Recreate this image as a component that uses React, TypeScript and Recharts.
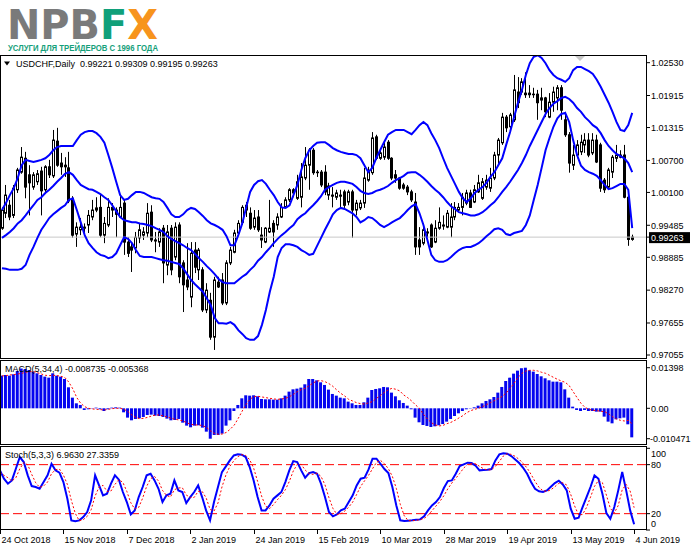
import React from 'react';
import { ComposedChart, Bar, Line, XAxis, YAxis, ReferenceLine } from 'recharts';

const FONT = "'Liberation Sans', Arial, sans-serif";
const W = 691;
const H = 549;

const symbolName = 'USDCHF,Daily';

const opens = [
  0.9943,0.9971,0.9986,0.9967,1.0015,1.0048,1.0074,1.0043,1.0020,1.0030,
  1.0050,1.0015,1.0058,1.0041,1.0106,1.0065,1.0061,1.0056,0.9998,0.9932,
  0.9940,0.9943,0.9949,0.9964,0.9977,0.9982,0.9930,0.9949,0.9982,0.9977,
  0.9964,0.9990,0.9917,0.9908,0.9906,0.9925,0.9930,0.9934,0.9973,0.9919,
  0.9917,0.9943,0.9874,0.9943,0.9889,0.9949,0.9878,0.9846,0.9814,0.9902,
  0.9865,0.9865,0.9790,0.9808,0.9739,0.9842,0.9846,0.9803,0.9878,0.9898,
  0.9934,0.9954,0.9977,0.9971,0.9945,0.9964,0.9930,0.9917,0.9936,0.9952,
  0.9949,0.9964,0.9982,0.9996,1.0015,0.9999,1.0001,1.0037,1.0061,1.0089,
  1.0048,1.0048,1.0048,1.0005,1.0005,1.0001,1.0005,1.0011,0.9992,1.0011,
  0.9977,0.9981,0.9990,1.0033,1.0047,1.0114,1.0074,1.0076,1.0104,1.0074,
  1.0043,1.0037,1.0024,1.0020,1.0011,0.9992,0.9921,0.9915,0.9936,0.9949,
  0.9917,0.9943,0.9947,0.9945,0.9945,0.9964,0.9977,0.9982,0.9990,1.0009,
  0.9992,1.0011,0.9999,1.0020,1.0018,1.0037,1.0080,1.0103,1.0151,1.0133,
  1.0146,1.0198,1.0198,1.0196,1.0196,1.0194,1.0194,1.0187,1.0187,1.0151,
  1.0179,1.0187,1.0206,1.0146,1.0118,1.0061,1.0080,1.0086,1.0099,1.0108,
  1.0084,1.0108,1.0099,1.0033,1.0020,1.0048,1.0074,1.0080,1.0080,1.0001,
  0.99221,
];

const highs = [
  0.9982,1.0024,0.9996,1.0024,1.0056,1.0095,1.0086,1.0061,1.0048,1.0052,
  1.0058,1.0061,1.0071,1.0127,1.0131,1.0084,1.0076,1.0086,1.0003,0.9954,
  0.9962,0.9952,0.9977,0.9996,1.0001,1.0005,0.9964,0.9999,0.9990,0.9982,
  1.0005,0.9996,0.9926,0.9917,0.9936,0.9952,0.9945,0.9990,0.9986,0.9936,
  0.9943,0.9949,0.9949,0.9949,0.9954,0.9954,0.9883,0.9915,0.9917,0.9917,
  0.9906,0.9870,0.9840,0.9822,0.9852,0.9852,0.9859,0.9883,0.9908,0.9940,
  0.9958,0.9986,0.9992,0.9982,0.9977,0.9977,0.9945,0.9945,0.9996,0.9958,
  0.9971,0.9990,1.0001,1.0018,1.0018,1.0043,1.0065,1.0095,1.0093,1.0093,
  1.0052,1.0052,1.0061,1.0028,1.0020,1.0015,1.0015,1.0015,1.0015,1.0015,
  0.9996,0.9996,1.0056,1.0058,1.0123,1.0118,1.0093,1.0104,1.0108,1.0076,
  1.0052,1.0039,1.0028,1.0024,1.0015,1.0009,0.9945,0.9952,0.9943,0.9952,
  0.9958,0.9982,0.9967,0.9977,0.9990,0.9992,0.9990,1.0009,1.0015,1.0015,
  1.0024,1.0043,1.0037,1.0043,1.0056,1.0086,1.0112,1.0159,1.0155,1.0159,
  1.0230,1.0226,1.0224,1.0235,1.0211,1.0206,1.0202,1.0206,1.0189,1.0196,
  1.0208,1.0211,1.0211,1.0161,1.0123,1.0099,1.0108,1.0118,1.0121,1.0121,
  1.0121,1.0118,1.0103,1.0037,1.0056,1.0080,1.0099,1.0089,1.0099,1.0005,
  0.99309,
];

const lows = [
  0.9940,0.9962,0.9958,0.9962,1.0009,1.0045,0.9999,0.9967,1.0015,1.0024,
  0.9967,1.0011,1.0037,1.0037,1.0058,1.0043,1.0039,0.9990,0.9925,0.9908,
  0.9930,0.9934,0.9934,0.9958,0.9973,0.9926,0.9915,0.9945,0.9964,0.9926,
  0.9962,0.9893,0.9889,0.9861,0.9896,0.9915,0.9921,0.9926,0.9917,0.9898,
  0.9908,0.9840,0.9855,0.9855,0.9883,0.9840,0.9786,0.9827,0.9795,0.9859,
  0.9846,0.9786,0.9784,0.9734,0.9715,0.9831,0.9799,0.9799,0.9874,0.9896,
  0.9930,0.9949,0.9964,0.9940,0.9940,0.9936,0.9906,0.9915,0.9934,0.9908,
  0.9940,0.9962,0.9981,0.9992,1.0001,0.9996,0.9982,1.0033,1.0015,1.0043,
  1.0039,1.0020,1.0005,0.9996,0.9982,0.9996,0.9982,0.9981,0.9986,0.9925,
  0.9967,0.9977,0.9981,1.0030,1.0043,1.0071,1.0071,1.0071,1.0071,1.0033,
  1.0028,1.0015,1.0015,1.0005,0.9992,0.9893,0.9893,0.9911,0.9926,0.9906,
  0.9915,0.9940,0.9940,0.9943,0.9926,0.9958,0.9973,0.9967,0.9986,0.9981,
  0.9990,1.0009,0.9996,1.0015,1.0011,1.0033,1.0061,1.0099,1.0123,1.0127,
  1.0142,1.0168,1.0193,1.0187,1.0187,1.0187,1.0146,1.0164,1.0151,1.0149,
  1.0161,1.0164,1.0146,1.0114,1.0047,1.0052,1.0074,1.0080,1.0084,1.0076,
  1.0080,1.0065,1.0011,1.0009,1.0018,1.0037,1.0067,1.0074,0.9999,0.9910,
  0.99195,
];

const closes = [
  0.9977,1.0005,0.9964,1.0018,1.0052,1.0076,1.0020,1.0028,1.0043,1.0045,
  1.0013,1.0058,1.0043,1.0108,1.0061,1.0058,1.0058,0.9994,0.9930,0.9945,
  0.9945,0.9945,0.9967,0.9977,0.9981,0.9930,0.9952,0.9982,0.9977,0.9969,
  0.9982,0.9917,0.9896,0.9902,0.9926,0.9940,0.9936,0.9971,0.9921,0.9921,
  0.9936,0.9878,0.9936,0.9865,0.9945,0.9852,0.9837,0.9833,0.9896,0.9870,
  0.9902,0.9790,0.9827,0.9739,0.9846,0.9833,0.9803,0.9878,0.9902,0.9934,
  0.9952,0.9982,0.9986,0.9943,0.9962,0.9940,0.9921,0.9943,0.9943,0.9936,
  0.9964,0.9982,0.9996,1.0015,1.0009,1.0030,1.0039,1.0061,1.0089,1.0047,
  1.0047,1.0024,1.0011,1.0022,1.0003,1.0009,1.0003,0.9986,1.0011,0.9977,
  0.9990,0.9990,1.0037,1.0048,1.0112,1.0074,1.0084,1.0095,1.0074,1.0037,
  1.0037,1.0018,1.0018,1.0011,0.9996,0.9908,0.9908,0.9940,0.9934,0.9908,
  0.9943,0.9954,0.9949,0.9971,0.9964,0.9982,0.9982,1.0001,1.0009,0.9982,
  1.0015,1.0028,1.0030,1.0033,1.0037,1.0080,1.0108,1.0151,1.0131,1.0155,
  1.0202,1.0178,1.0217,1.0193,1.0193,1.0193,1.0178,1.0183,1.0161,1.0179,
  1.0198,1.0206,1.0164,1.0118,1.0065,1.0080,1.0099,1.0104,1.0108,1.0080,
  1.0108,1.0067,1.0018,1.0015,1.0052,1.0076,1.0080,1.0076,1.0001,0.9922,
  0.99263,
];

const bbUpper = [
  0.9977,0.9990,1.0005,1.0018,1.0037,1.0061,1.0071,1.0069,1.0067,1.0069,
  1.0071,1.0074,1.0080,1.0089,1.0095,1.0097,1.0097,1.0097,1.0097,1.0108,
  1.0118,1.0123,1.0125,1.0125,1.0121,1.0114,1.0103,1.0080,1.0056,1.0030,
  1.0005,0.9996,0.9998,1.0005,1.0011,1.0011,1.0009,1.0005,1.0001,0.9999,
  0.9998,0.9992,0.9981,0.9969,0.9964,0.9964,0.9969,0.9977,0.9981,0.9979,
  0.9973,0.9966,0.9958,0.9952,0.9949,0.9945,0.9940,0.9928,0.9911,0.9911,
  0.9930,0.9952,0.9982,1.0011,1.0024,1.0031,1.0033,1.0026,1.0015,1.0005,
  0.9992,0.9982,0.9981,0.9986,1.0005,1.0024,1.0052,1.0074,1.0089,1.0097,
  1.0103,1.0104,1.0104,1.0099,1.0093,1.0089,1.0086,1.0084,1.0082,1.0082,
  1.0080,1.0074,1.0061,1.0048,1.0056,1.0074,1.0089,1.0104,1.0118,1.0123,
  1.0127,1.0127,1.0127,1.0123,1.0119,1.0127,1.0136,1.0142,1.0136,1.0121,
  1.0108,1.0093,1.0074,1.0056,1.0041,1.0026,1.0011,0.9999,0.9992,0.9999,
  1.0009,1.0015,1.0020,1.0028,1.0039,1.0048,1.0061,1.0074,1.0099,1.0123,
  1.0151,1.0178,1.0202,1.0230,1.0252,1.0264,1.0267,1.0262,1.0252,1.0239,
  1.0230,1.0224,1.0221,1.0217,1.0224,1.0239,1.0245,1.0245,1.0241,1.0237,
  1.0232,1.0221,1.0208,1.0193,1.0178,1.0161,1.0142,1.0127,1.0125,1.0136,
  1.0159,
];

const bbMiddle = [
  0.9925,0.9930,0.9936,0.9943,0.9952,0.9958,0.9967,0.9977,0.9986,0.9996,
  1.0001,1.0009,1.0015,1.0022,1.0030,1.0037,1.0045,1.0048,1.0043,1.0033,
  1.0024,1.0020,1.0016,1.0015,1.0011,1.0007,1.0001,0.9996,0.9986,0.9975,
  0.9964,0.9958,0.9956,0.9954,0.9954,0.9952,0.9951,0.9949,0.9947,0.9943,
  0.9940,0.9936,0.9928,0.9923,0.9919,0.9915,0.9911,0.9906,0.9902,0.9895,
  0.9887,0.9880,0.9872,0.9865,0.9857,0.9848,0.9842,0.9840,0.9840,0.9840,
  0.9846,0.9852,0.9857,0.9865,0.9872,0.9882,0.9889,0.9898,0.9906,0.9915,
  0.9923,0.9930,0.9936,0.9943,0.9949,0.9960,0.9966,0.9971,0.9979,0.9986,
  0.9994,1.0003,1.0015,1.0020,1.0024,1.0028,1.0030,1.0030,1.0028,1.0026,
  1.0020,1.0013,1.0009,1.0007,1.0009,1.0013,1.0015,1.0018,1.0022,1.0028,
  1.0033,1.0037,1.0041,1.0047,1.0048,1.0048,1.0043,1.0037,1.0030,1.0022,
  1.0015,1.0009,1.0001,0.9992,0.9984,0.9979,0.9973,0.9971,0.9969,0.9967,
  0.9967,0.9969,0.9973,0.9979,0.9986,0.9992,1.0001,1.0011,1.0020,1.0030,
  1.0041,1.0052,1.0065,1.0080,1.0097,1.0112,1.0127,1.0142,1.0157,1.0168,
  1.0176,1.0181,1.0187,1.0189,1.0185,1.0178,1.0168,1.0161,1.0151,1.0144,
  1.0136,1.0131,1.0121,1.0108,1.0097,1.0089,1.0082,1.0078,1.0074,1.0065,
  1.0048,
];

const bbLower = [
  0.9868,0.9867,0.9865,0.9865,0.9865,0.9867,0.9874,0.9893,0.9908,0.9925,
  0.9940,0.9951,0.9962,0.9969,0.9975,0.9981,0.9986,0.9996,0.9999,0.9977,
  0.9954,0.9930,0.9915,0.9906,0.9898,0.9893,0.9891,0.9887,0.9889,0.9896,
  0.9911,0.9926,0.9923,0.9915,0.9902,0.9891,0.9889,0.9889,0.9889,0.9887,
  0.9885,0.9883,0.9882,0.9880,0.9878,0.9876,0.9868,0.9857,0.9846,0.9838,
  0.9831,0.9824,0.9812,0.9799,0.9775,0.9765,0.9765,0.9764,0.9767,0.9762,
  0.9752,0.9745,0.9737,0.9734,0.9734,0.9741,0.9762,0.9790,0.9824,0.9852,
  0.9889,0.9906,0.9913,0.9913,0.9911,0.9908,0.9902,0.9898,0.9893,0.9895,
  0.9910,0.9925,0.9940,0.9954,0.9969,0.9977,0.9981,0.9979,0.9975,0.9971,
  0.9964,0.9954,0.9958,0.9964,0.9962,0.9956,0.9949,0.9945,0.9949,0.9954,
  0.9958,0.9962,0.9969,0.9977,0.9984,0.9988,0.9971,0.9949,0.9921,0.9893,
  0.9883,0.9880,0.9880,0.9883,0.9889,0.9896,0.9902,0.9906,0.9908,0.9908,
  0.9911,0.9915,0.9921,0.9928,0.9934,0.9941,0.9943,0.9940,0.9932,0.9930,
  0.9934,0.9936,0.9938,0.9949,0.9967,0.9996,1.0024,1.0056,1.0089,1.0112,
  1.0133,1.0149,1.0157,1.0159,1.0142,1.0108,1.0080,1.0060,1.0052,1.0048,
  1.0045,1.0041,1.0033,1.0024,1.0016,1.0018,1.0022,1.0026,1.0026,1.0015,
  0.9943,
];

const macdHist = [
  0.01125,0.01148,0.01125,0.01171,0.01286,0.01370,0.01355,0.01320,0.01263,0.01205,
  0.01148,0.01091,0.01056,0.01205,0.01125,0.01091,0.01010,0.00723,0.00367,0.00172,
  0.00115,-0.00057,-0.00034,-0.00010,0.00023,-0.00034,-0.00092,-0.00034,0.00023,0.00034,
  0.00023,-0.00138,-0.00321,-0.00413,-0.00367,-0.00344,-0.00298,-0.00230,-0.00218,-0.00253,
  -0.00264,-0.00298,-0.00356,-0.00413,-0.00402,-0.00367,-0.00494,-0.00597,-0.00654,-0.00597,
  -0.00585,-0.00666,-0.00804,-0.01047,-0.00918,-0.00918,-0.00872,-0.00597,-0.00413,-0.00092,
  0.00115,0.00344,0.00448,0.00436,0.00448,0.00413,0.00321,0.00310,0.00310,0.00298,
  0.00298,0.00344,0.00436,0.00574,0.00654,0.00677,0.00712,0.00827,0.01010,0.01010,
  0.00964,0.00895,0.00804,0.00643,0.00494,0.00436,0.00367,0.00344,0.00230,0.00172,
  0.00115,0.00115,0.00207,0.00367,0.00631,0.00666,0.00689,0.00735,0.00723,0.00540,
  0.00413,0.00276,0.00184,0.00092,-0.00034,-0.00321,-0.00482,-0.00574,-0.00608,-0.00643,
  -0.00620,-0.00585,-0.00540,-0.00459,-0.00367,-0.00264,-0.00172,-0.00092,-0.00034,-0.00011,
  0.00034,0.00092,0.00172,0.00253,0.00310,0.00390,0.00540,0.00735,0.00941,0.01056,
  0.01194,0.01297,0.01380,0.01398,0.01309,0.01263,0.01182,0.01102,0.01033,0.00964,
  0.00918,0.00918,0.00895,0.00654,0.00367,0.00057,-0.00057,-0.00092,-0.00057,-0.00092,
  -0.00092,-0.00115,-0.00115,-0.00287,-0.00459,-0.00517,-0.00379,-0.00344,-0.00321,-0.00551,
  -0.01000,
];

const macdSignal = [
  0.01114,0.01125,0.01148,0.01159,0.01182,0.01205,0.01240,0.01263,0.01263,0.01228,
  0.01182,0.01137,0.01125,0.01137,0.01125,0.01102,0.01056,0.00895,0.00666,0.00367,
  0.00172,0.00057,0.00000,-0.00023,-0.00034,-0.00046,-0.00057,-0.00034,-0.00011,0.00000,
  0.00000,-0.00034,-0.00115,-0.00230,-0.00321,-0.00356,-0.00344,-0.00310,-0.00264,-0.00230,
  -0.00230,-0.00264,-0.00298,-0.00344,-0.00379,-0.00402,-0.00436,-0.00505,-0.00551,-0.00574,
  -0.00574,-0.00597,-0.00666,-0.00781,-0.00872,-0.00895,-0.00884,-0.00827,-0.00712,-0.00574,
  -0.00344,-0.00092,0.00138,0.00321,0.00402,0.00413,0.00390,0.00367,0.00344,0.00321,
  0.00310,0.00321,0.00344,0.00402,0.00482,0.00574,0.00643,0.00689,0.00781,0.00872,
  0.00941,0.00953,0.00918,0.00850,0.00758,0.00631,0.00517,0.00425,0.00310,0.00253,
  0.00195,0.00161,0.00149,0.00184,0.00230,0.00333,0.00436,0.00540,0.00631,0.00689,
  0.00654,0.00597,0.00459,0.00367,0.00253,0.00115,0.00000,-0.00207,-0.00367,-0.00494,
  -0.00574,-0.00608,-0.00585,-0.00528,-0.00482,-0.00413,-0.00333,-0.00253,-0.00149,-0.00080,
  -0.00034,0.00000,0.00057,0.00126,0.00195,0.00264,0.00333,0.00413,0.00528,0.00689,
  0.00861,0.01056,0.01205,0.01286,0.01309,0.01309,0.01286,0.01240,0.01205,0.01137,
  0.01067,0.00999,0.00941,0.00895,0.00781,0.00574,0.00367,0.00172,0.00034,-0.00034,
  -0.00069,-0.00080,-0.00103,-0.00115,-0.00195,-0.00287,-0.00367,-0.00413,-0.00436,-0.00413,
  -0.00537,
];

const stochMain = [
  73.0,62.8,56.7,60.7,75.0,89.3,83.2,66.9,53.8,52.6,
  50.5,58.7,66.9,81.1,73.0,70.1,58.7,38.3,11.8,10.6,
  11.8,15.9,22.0,36.3,66.9,54.6,42.4,44.4,56.7,66.9,
  61.6,46.5,34.2,19.1,24.0,40.3,52.6,66.9,68.9,60.7,
  50.5,34.2,42.4,44.4,60.7,48.5,46.5,33.0,40.3,46.5,
  54.6,40.3,24.0,11.8,34.2,52.6,70.9,77.9,85.2,91.3,
  92.6,92.2,89.3,77.1,60.7,40.3,24.0,24.0,30.1,38.3,
  42.4,46.5,58.7,73.0,84.4,83.2,73.0,64.0,69.7,70.9,
  68.9,56.7,40.3,22.0,16.7,19.1,24.0,26.1,34.2,42.4,
  54.6,62.8,64.0,74.2,87.3,87.3,81.1,74.6,69.7,52.6,
  30.1,11.8,11.0,11.4,11.8,12.6,13.0,16.7,24.0,30.1,
  34.2,40.3,51.4,59.9,60.7,68.9,78.3,80.3,82.4,81.9,
  78.7,73.0,73.4,73.8,74.6,85.2,92.6,93.8,93.4,90.5,
  86.4,82.0,76.2,68.9,58.7,50.5,47.3,46.5,48.5,53.0,
  57.5,60.3,55.8,48.5,26.1,13.8,15.0,28.1,40.3,52.6,
  66.9,62.8,44.4,20.8,13.8,28.1,48.5,70.9,48.5,24.0,
  6.963,
];

const stochSignal = [
  70.9,66.9,64.0,59.9,64.0,75.0,82.4,79.9,68.1,57.9,
  52.2,53.8,58.7,68.9,73.8,74.6,67.3,55.8,36.3,20.3,
  11.4,12.6,16.7,24.8,41.6,52.6,54.6,47.3,47.7,55.8,
  61.6,58.3,47.3,33.4,25.7,27.7,39.1,53.4,62.8,65.6,
  59.9,48.5,42.4,40.3,49.3,51.4,51.8,42.8,39.9,39.9,
  47.3,47.3,39.5,25.2,23.2,33.0,52.6,67.3,77.9,84.8,
  89.7,92.2,91.3,86.0,75.8,59.5,41.6,29.3,26.1,31.0,
  37.1,42.4,49.3,59.5,72.2,80.3,80.3,73.4,68.9,68.1,
  69.7,65.6,55.4,39.5,26.5,19.1,19.9,23.2,28.1,34.2,
  43.6,53.4,60.3,66.9,75.0,82.8,85.2,81.1,75.0,65.6,
  50.9,31.4,17.5,11.4,11.4,11.8,12.6,14.2,17.9,23.6,
  29.3,35.0,42.0,50.5,57.5,63.2,69.3,75.8,80.3,81.5,
  81.1,77.9,75.0,73.4,73.8,77.9,84.0,90.5,93.4,92.6,
  90.1,86.4,81.5,75.8,68.1,59.5,52.2,48.1,47.3,49.3,
  53.0,57.1,57.9,55.0,43.6,29.3,18.3,19.1,27.7,40.3,
  53.4,60.7,57.9,42.8,26.5,20.8,30.1,49.3,55.8,47.7,
  27.3359,
];

const priceTicks = [1.0253, 1.01915, 1.01315, 1.007, 1.001, 0.99485, 0.98885, 0.9827, 0.97655, 0.97055];
const macdTicks = [0.01398, 0, -0.010471];
const macdTickLabels = ['0.01398', '0.00', '-0.010471'];
const macdReadout = [-0.008735, -0.005368];
const stochTicks = [100, 80, 20, 0];
const stochLevels = [80, 20];
const dateLabels = ['24 Oct 2018', '15 Nov 2018', '7 Dec 2018', '2 Jan 2019', '24 Jan 2019', '15 Feb 2019', '10 Mar 2019', '28 Mar 2019', '19 Apr 2019', '13 May 2019', '4 Jun 2019'];
const dateLabelBars = [0, 16, 32, 48, 64, 80, 96, 112, 128, 144, 160];
const emptyBarsRight = 3;

const lastIdx = closes.length - 1;
const lastClose = closes[lastIdx];

const rows: any[] = [];
for (let i = 0; i < closes.length + emptyBarsRight; i++) {
  const has = i < closes.length;
  rows.push({
    i,
    open: has ? opens[i] : null,
    high: has ? highs[i] : null,
    low: has ? lows[i] : null,
    close: has ? closes[i] : null,
    bbUp: has ? bbUpper[i] : null,
    bbMid: has ? bbMiddle[i] : null,
    bbLow: has ? bbLower[i] : null,
    macd: has ? macdHist[i] : null,
    macdSig: has ? macdSignal[i] : null,
    k: has ? stochMain[i] : null,
    d: has ? stochSignal[i] : null,
  });
}

function Candle(props: any) {
  const { x, y, width, height, payload } = props;
  if (!payload || payload.high == null || x == null || y == null) return <g />;
  const top = Math.min(y, y + height);
  const h = Math.abs(height);
  const range = payload.high - payload.low;
  const k = range > 0 ? h / range : 0;
  const py = (v: number) => top + (payload.high - v) * k;
  const cx = Math.round(x + width / 2) + 0.5;
  const bull = payload.close >= payload.open;
  const yo = py(payload.open);
  const yc = py(payload.close);
  const bt = Math.min(yo, yc);
  const bb = Math.max(yo, yc);
  return (
    <g>
      <line x1={cx} x2={cx} y1={top} y2={top + h} stroke="#000" strokeWidth={1} />
      <rect x={cx - 1} y={bt} width={2} height={Math.max(bb - bt, 0.2)} fill={bull ? '#fff' : '#000'} stroke="#000" strokeWidth={1} />
    </g>
  );
}

function PriceTick(props: any) {
  const { x, y, payload } = props;
  const v = payload.value;
  if (Math.abs(v - lastClose) < 1e-9) {
    return (
      <g>
        <rect x={x - 2} y={y - 5} width={41} height={11} fill="#000" />
        <text x={x} y={y} dy={3.4} fill="#fff" fontSize={9} fontFamily={FONT} textAnchor="start">{v.toFixed(5)}</text>
      </g>
    );
  }
  return (
    <text x={x} y={y} dy={3.3} fill="#000" fontSize={9} fontFamily={FONT} textAnchor="start">{v.toFixed(5)}</text>
  );
}

function MacdTick(props: any) {
  const { x, y, payload } = props;
  const idx = macdTicks.indexOf(payload.value);
  const label = idx >= 0 ? macdTickLabels[idx] : String(payload.value);
  return (
    <text x={label.startsWith('-') ? x - 1 : x} y={y} dy={3.3} fill="#000" fontSize={9} fontFamily={FONT} textAnchor="start">{label}</text>
  );
}

function StochTick(props: any) {
  const { x, y, payload } = props;
  const v = payload.value;
  const shift = v === 100 ? 5.5 : v === 0 ? -6.5 : 0;
  return (
    <text x={x} y={y + shift} dy={3.3} fill="#000" fontSize={9} fontFamily={FONT} textAnchor="start">{String(v)}</text>
  );
}

function DateTick(props: any) {
  const { x, y, payload } = props;
  const idx = dateLabelBars.indexOf(payload.value);
  if (idx < 0) return <g />;
  const px = Math.round(x) + 0.5;
  return (
    <g>
      <line x1={px} x2={px} y1={y} y2={y + 4} stroke="#000" strokeWidth={1} />
      <text x={px + 1} y={y + 13} fill="#000" fontSize={9} fontFamily={FONT} textAnchor="start">{dateLabels[idx]}</text>
    </g>
  );
}

const blue = '#0000ff';
const red = '#ff0000';

export default function App() {
  const header = `${symbolName}  ${opens[lastIdx].toFixed(5)} ${highs[lastIdx].toFixed(5)} ${lows[lastIdx].toFixed(5)} ${closes[lastIdx].toFixed(5)}`;
  const macdHeader = `MACD(5,34,4) ${macdReadout[0].toFixed(6)} ${macdReadout[1].toFixed(6)}`;
  const stochHeader = `Stoch(5,3,3) ${stochMain[lastIdx].toFixed(4)} ${stochSignal[lastIdx].toFixed(4)}`;
  return (
    <div style={{ position: 'absolute', left: 0, top: 0, width: W, height: H, background: '#fff', overflow: 'hidden' }}>
      <div style={{ position: 'absolute', left: 0, top: 50 }}>
        <ComposedChart width={W} height={312} data={rows} margin={{ top: 6, right: 0, bottom: 5, left: 0 }}>
          <XAxis dataKey="i" type="category" hide />
          <YAxis
            orientation="right"
            width={45}
            type="number"
            domain={[0.97018, 1.02655]}
            allowDataOverflow
            ticks={[...priceTicks, lastClose]}
            interval={0}
            tickSize={4}
            tickMargin={1}
            axisLine={false}
            tickLine={{ stroke: '#000' }}
            tick={PriceTick}
          />
          <ReferenceLine y={lastClose} stroke="#c8c8c8" strokeWidth={1} />
          <Bar
            dataKey={(d: any) => (d.high == null ? null : [d.low, d.high])}
            shape={Candle}
            barSize={3}
            isAnimationActive={false}
          />
          <Line dataKey="bbUp" type="linear" stroke={blue} strokeWidth={2} dot={false} isAnimationActive={false} />
          <Line dataKey="bbMid" type="linear" stroke={blue} strokeWidth={2} dot={false} isAnimationActive={false} />
          <Line dataKey="bbLow" type="linear" stroke={blue} strokeWidth={2} dot={false} isAnimationActive={false} />
        </ComposedChart>
      </div>

      <div style={{ position: 'absolute', left: 0, top: 355 }}>
        <ComposedChart width={W} height={95} data={rows} margin={{ top: 6, right: 0, bottom: 6, left: 0 }}>
          <XAxis dataKey="i" type="category" hide />
          <YAxis
            orientation="right"
            width={45}
            type="number"
            domain={[-0.01229, 0.01629]}
            allowDataOverflow
            ticks={macdTicks}
            interval={0}
            tickSize={4}
            tickMargin={1}
            axisLine={false}
            tickLine={{ stroke: '#000' }}
            tick={MacdTick}
          />
          <Bar dataKey="macd" fill="#0505f0" barSize={3} isAnimationActive={false} />
          <Line dataKey="macdSig" type="linear" stroke={red} strokeWidth={1} strokeDasharray="2 2" dot={false} isAnimationActive={false} />
        </ComposedChart>
      </div>

      <div style={{ position: 'absolute', left: 0, top: 441 }}>
        <ComposedChart width={W} height={108} data={rows} margin={{ top: 6, right: 0, bottom: 0, left: 0 }}>
          <XAxis
            dataKey="i"
            type="category"
            height={19}
            interval={0}
            tickSize={0}
            tickMargin={0}
            tickLine={false}
            axisLine={false}
            tick={DateTick}
          />
          <YAxis
            orientation="right"
            width={45}
            type="number"
            domain={[0, 101.6]}
            allowDataOverflow
            ticks={stochTicks}
            interval={0}
            tickSize={4}
            tickMargin={1}
            axisLine={false}
            tickLine={{ stroke: '#000' }}
            tick={StochTick}
          />
          {stochLevels.map((lv) => (
            <ReferenceLine key={lv} y={lv} stroke={red} strokeWidth={1} strokeDasharray="9 4" />
          ))}
          <Line dataKey="k" type="linear" stroke={blue} strokeWidth={2} dot={false} isAnimationActive={false} />
          <Line dataKey="d" type="linear" stroke={red} strokeWidth={1} strokeDasharray="2 2" dot={false} isAnimationActive={false} />
        </ComposedChart>
      </div>

      <svg width={W} height={H} style={{ position: 'absolute', left: 0, top: 0, pointerEvents: 'none' }}>
        <text x={7} y={38.5} fontFamily="'DejaVu Sans', sans-serif" fontWeight="bold" fontSize={41} textLength={151} lengthAdjust="spacingAndGlyphs">
          <tspan fill="#7a7a7a">NPB</tspan>
          <tspan fill="#10a07a">F</tspan>
          <tspan fill="#f7941d">X</tspan>
        </text>
        <text x={8} y={50.5} fontFamily={FONT} fontWeight="bold" fontSize={9.5} fill="#15a07a" textLength={150} lengthAdjust="spacingAndGlyphs">
          УСЛУГИ ДЛЯ ТРЕЙДЕРОВ С 1996 ГОДА
        </text>

        <rect x={0.5} y={55.5} width={646} height={303} fill="none" stroke="#000" strokeWidth={1} />
        <rect x={0.5} y={360.5} width={646} height={84} fill="none" stroke="#000" strokeWidth={1} />
        <rect x={0.5} y={446.5} width={646} height={83} fill="none" stroke="#000" strokeWidth={1} />

        <polygon points="575,56 585,56 580,61" fill="#c8c8c8" />
        <polygon points="4,61.5 10,61.5 7,65.5" fill="#000" />
        <text x={16} y={66.5} fontFamily={FONT} fontSize={9} fill="#000" style={{ whiteSpace: 'pre' }}>{header}</text>
        <text x={5} y={372} fontFamily={FONT} fontSize={9} fill="#000" style={{ whiteSpace: 'pre' }}>{macdHeader}</text>
        <text x={5} y={458} fontFamily={FONT} fontSize={9} fill="#000" style={{ whiteSpace: 'pre' }}>{stochHeader}</text>
      </svg>
    </div>
  );
}
